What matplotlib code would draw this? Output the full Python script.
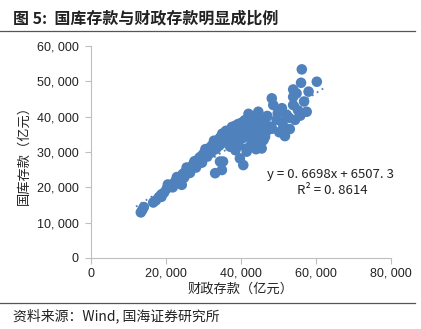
import matplotlib
matplotlib.use("Agg")
import numpy as np
import matplotlib.pyplot as plt
from matplotlib.ticker import FuncFormatter

plt.rcParams['font.family'] = ['Noto Sans CJK SC', 'DejaVu Sans']

# 财政存款 (x) / 国库存款 (y), 亿元
fiscal = [
    13300, 13700, 14100, 16600, 17300, 18100, 18800, 18800, 19500, 20200,
    21000, 21500, 22100, 22600, 23100, 23600, 24000, 24200, 24500, 25000,
    25300, 25800, 26200, 26600, 27000, 27400, 27800, 28200, 28600, 29000,
    29300, 29700, 30100, 30400, 30800, 31200, 31500, 31900, 32300, 32600,
    33000, 33400, 33700, 34100, 34500, 34800, 35200, 35600, 35900, 36300,
    36700, 37000, 37400, 37800, 38200, 38600, 39000, 39300, 39700, 40100,
    40500, 40900, 41300, 41700, 42100, 42600, 43000, 43500, 44000, 44500,
    45000, 45600, 46200, 46800, 36200, 37000, 38000, 38800, 39600, 40400,
    42400, 43200, 44100, 44900, 45700, 46400, 37100, 38500, 41500, 43000,
    44000, 33100, 34400, 34900, 35200, 40600, 41500, 45500, 46000, 39700,
    44600, 47700, 48200, 48600, 49500, 50900, 51300, 51700, 52200, 53900,
    53900, 53900, 54400, 56000, 56200, 57500, 58000, 60200, 47000, 49800,
    51000, 52800, 55200, 55800, 53000, 50200, 48300, 56800, 54800, 42000,
    43400, 45800, 46900,
    20500, 21800, 22900, 23300, 24800, 25500, 26400, 27600, 28000, 28800,
    29600, 30500, 31000, 32000, 32800, 33300, 34200, 35000, 35400, 36000,
    36600, 37600, 38400, 39200, 40000, 41000, 42200, 43800, 41000, 42000,
    43600, 45200, 46500, 38000, 39400, 42800, 44400,
]
treasury = [
    12900, 13600, 14400, 15700, 16300, 17200, 18000, 17300, 18500, 19600,
    20300, 20700, 21100, 21900, 22400, 22100, 23200, 20700, 23800, 24200,
    23600, 24900, 25400, 25000, 26100, 26800, 26300, 27500, 27900, 28500,
    27600, 29100, 29600, 28800, 30300, 30900, 30100, 31400, 31900, 31200,
    32500, 33100, 32300, 33600, 34200, 33400, 34700, 35300, 34500, 35800,
    36000, 35500, 36300, 36800, 36200, 37000, 37400, 37000, 37600, 37700,
    38500, 37400, 38300, 37800, 38800, 37200, 38400, 37600, 36800, 37900,
    36500, 36000, 35400, 35900, 33200, 33800, 34500, 33600, 34800, 33900,
    34800, 33500, 34600, 33900, 33200, 34300, 31500, 30500, 31000, 32000,
    30800, 24000, 27300, 24900, 27300, 26300, 30100, 31000, 33400, 28200,
    41400, 37200, 45200, 43300, 39100, 42400, 37200, 34500, 40500, 47700,
    45600, 43300, 39100, 49600, 53400, 41400, 47100, 49900, 40200, 41000,
    38400, 39700, 41800, 40300, 36500, 35600, 36600, 44300, 46600, 40800,
    39900, 39200, 40000,
    20800, 20000, 22900, 21300, 22700, 25600, 24100, 27400, 25600, 26800,
    27000, 30800, 28700, 29800, 33200, 30800, 31800, 35200, 32700, 36000,
    33900, 37100, 37400, 37900, 38200, 39000, 39300, 40200, 35700, 36300,
    35600, 38400, 37700, 32200, 31800, 32600, 31600,
]

slope, intercept, r2 = 0.6698, 6507.3, 0.8614
blue = '#4F81BD'
grey = '#BFBFBF'
num_font = ['Liberation Sans', 'Noto Sans CJK SC']

fig = plt.figure(figsize=(4.21, 3.29), dpi=100, facecolor='white')
ax = fig.add_axes([0.216, 0.216, 0.713, 0.644])

ax.scatter(fiscal, treasury, s=58, color=blue, edgecolors='none', zorder=3)

xs = np.array([12000, 62000])
ax.plot(xs, slope * xs + intercept, linestyle=(0, (1, 2.2)), color=blue,
        linewidth=1.3, zorder=2)

ax.set_xlim(0, 80000)
ax.set_ylim(0, 60000)
ax.set_xticks(range(0, 80001, 20000))
ax.set_yticks(range(0, 60001, 10000))
fmt = FuncFormatter(lambda v, p: f'{int(v):,}'.replace(',', ', '))
ax.xaxis.set_major_formatter(fmt)
ax.yaxis.set_major_formatter(fmt)

for side in ['top', 'right']:
    ax.spines[side].set_visible(False)
for side in ['left', 'bottom']:
    ax.spines[side].set_color(grey)
    ax.spines[side].set_linewidth(0.8)
ax.tick_params(axis='both', colors=grey, length=4, width=0.8,
               labelcolor='#222222', labelsize=9)
ax.tick_params(axis='x', pad=3)
ax.tick_params(axis='y', pad=5)
for lab in ax.get_xticklabels() + ax.get_yticklabels():
    lab.set_family(num_font)

ax.set_xlabel('财政存款（亿元）', fontsize=9.5, color='#222222', labelpad=2)
ax.set_ylabel('国库存款（亿元）', fontsize=9.5, color='#222222', labelpad=4)

ax.text(47000, 22500, 'y = 0. 6698x + 6507. 3', fontsize=9.5, color='#222222')
ax.text(55000, 18200, 'R² = 0. 8614', fontsize=9.5, color='#222222')

# header and footer
fig.text(0.03, 0.945, '图 5:  国库存款与财政存款明显成比例', fontsize=11.5,
         fontweight='bold', color='#222222', va='center')
fig.add_artist(plt.Line2D([0.0, 0.985], [0.906, 0.906], color='#555555',
                          linewidth=0.9, transform=fig.transFigure))
fig.add_artist(plt.Line2D([0.0, 0.985], [0.079, 0.079], color='#555555',
                          linewidth=0.9, transform=fig.transFigure))
fig.text(0.03, 0.040, '资料来源：Wind, 国海证券研究所', fontsize=10,
         color='#222222', va='center')

fig.savefig('out.png', dpi=100, facecolor='white')
